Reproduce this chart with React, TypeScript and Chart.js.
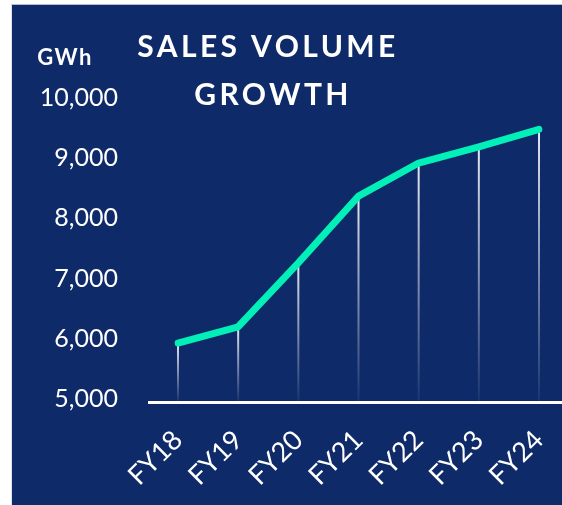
import React, { useEffect, useRef } from "react";
import { Chart, registerables } from "chart.js";

Chart.register(...registerables);

const categories = ["FY18", "FY19", "FY20", "FY21", "FY22", "FY23", "FY24"];
const salesVolume = [5930, 6200, 7260, 8370, 8920, 9190, 9480];
const titleLines = ["SALES VOLUME", "GROWTH"];
const unitLabel = "GWh";
const yMin = 5000;
const yMax = 10000;

const NAVY = "#0e2a69";
const TEAL = "#02efb8";

const decorPlugin = {
  id: "decor",
  beforeDatasetsDraw(chart: any) {
    const ctx = chart.ctx;
    const meta = chart.getDatasetMeta(0);
    const area = chart.chartArea;
    const baseY = area.bottom + 2;
    ctx.save();
    meta.data.forEach((pt: any) => {
      const g = ctx.createLinearGradient(0, pt.y, 0, baseY);
      g.addColorStop(0, "rgba(255,255,255,0.9)");
      g.addColorStop(1, "rgba(255,255,255,0.05)");
      ctx.strokeStyle = g;
      ctx.lineWidth = 2;
      ctx.beginPath();
      ctx.moveTo(pt.x, pt.y);
      ctx.lineTo(pt.x, baseY);
      ctx.stroke();
    });
    ctx.fillStyle = "#ffffff";
    ctx.fillRect(136, baseY, chart.width - 136, 3);
    ctx.restore();
  },
  afterDraw(chart: any) {
    const ctx = chart.ctx;
    ctx.save();
    ctx.fillStyle = "#ffffff";
    ctx.textAlign = "center";
    ctx.textBaseline = "alphabetic";
    (ctx as any).letterSpacing = "3.4px";
    ctx.font = "bold 30px Lato";
    ctx.fillText(titleLines[0], 256, 52);
    ctx.fillText(titleLines[1], 261, 100);
    (ctx as any).letterSpacing = "1.5px";
    ctx.font = "bold 22px Lato";
    ctx.fillText(unitLabel, 53, 60);
    ctx.restore();
  },
};

export default function App() {
  const ref = useRef<HTMLCanvasElement>(null);
  useEffect(() => {
    if (!ref.current) return;
    const chart = new Chart(ref.current, {
      type: "line",
      data: {
        labels: categories,
        datasets: [
          {
            data: salesVolume,
            borderColor: TEAL,
            borderWidth: 7,
            borderCapStyle: "round",
            borderJoinStyle: "round",
            pointRadius: 0,
            tension: 0,
            fill: false,
          },
        ],
      },
      options: {
        responsive: false,
        animation: false,
        maintainAspectRatio: false,
        layout: { padding: { top: 93, right: 23, left: 0, bottom: 0 } },
        plugins: {
          legend: { display: false },
          tooltip: { enabled: false },
          title: { display: false },
        },
        scales: {
          x: {
            offset: false,
            grid: { display: false, drawTicks: false },
            border: { display: false },
            ticks: {
              color: "#ffffff",
              font: { family: "Lato", size: 27 },
              minRotation: 45,
              maxRotation: 45,
              padding: 25,
              autoSkip: false,
            },
            afterFit(scale: any) {
              scale.height = 106;
              scale.paddingLeft = 0;
              scale.paddingRight = 0;
            },
          },
          y: {
            min: yMin,
            max: yMax,
            grid: { display: false, drawTicks: false },
            border: { display: false },
            ticks: {
              stepSize: 1000,
              color: "#ffffff",
              font: { family: "Lato", size: 25 },
              padding: 60,
              callback: (v: any) => Number(v).toLocaleString("en-US"),
            },
            afterFit(scale: any) {
              scale.width = 166;
              scale.paddingTop = 0;
              scale.paddingBottom = 0;
            },
          },
        },
      },
      plugins: [decorPlugin],
    });
    return () => chart.destroy();
  }, []);

  return (
    <div
      style={{
        position: "absolute",
        left: 0,
        top: 0,
        width: 562,
        height: 505,
        background: "#ffffff",
        overflow: "hidden",
      }}
    >
      <div
        style={{
          position: "absolute",
          left: 11,
          top: 4,
          width: 551,
          height: 501,
          background: NAVY,
          borderTop: "1px solid #b8bcc8",
          borderLeft: "1px solid #dde0e8",
          boxSizing: "border-box",
        }}
      />
      <canvas
        ref={ref}
        width={550}
        height={500}
        style={{ position: "absolute", left: 12, top: 5, width: 550, height: 500 }}
      />
    </div>
  );
}
